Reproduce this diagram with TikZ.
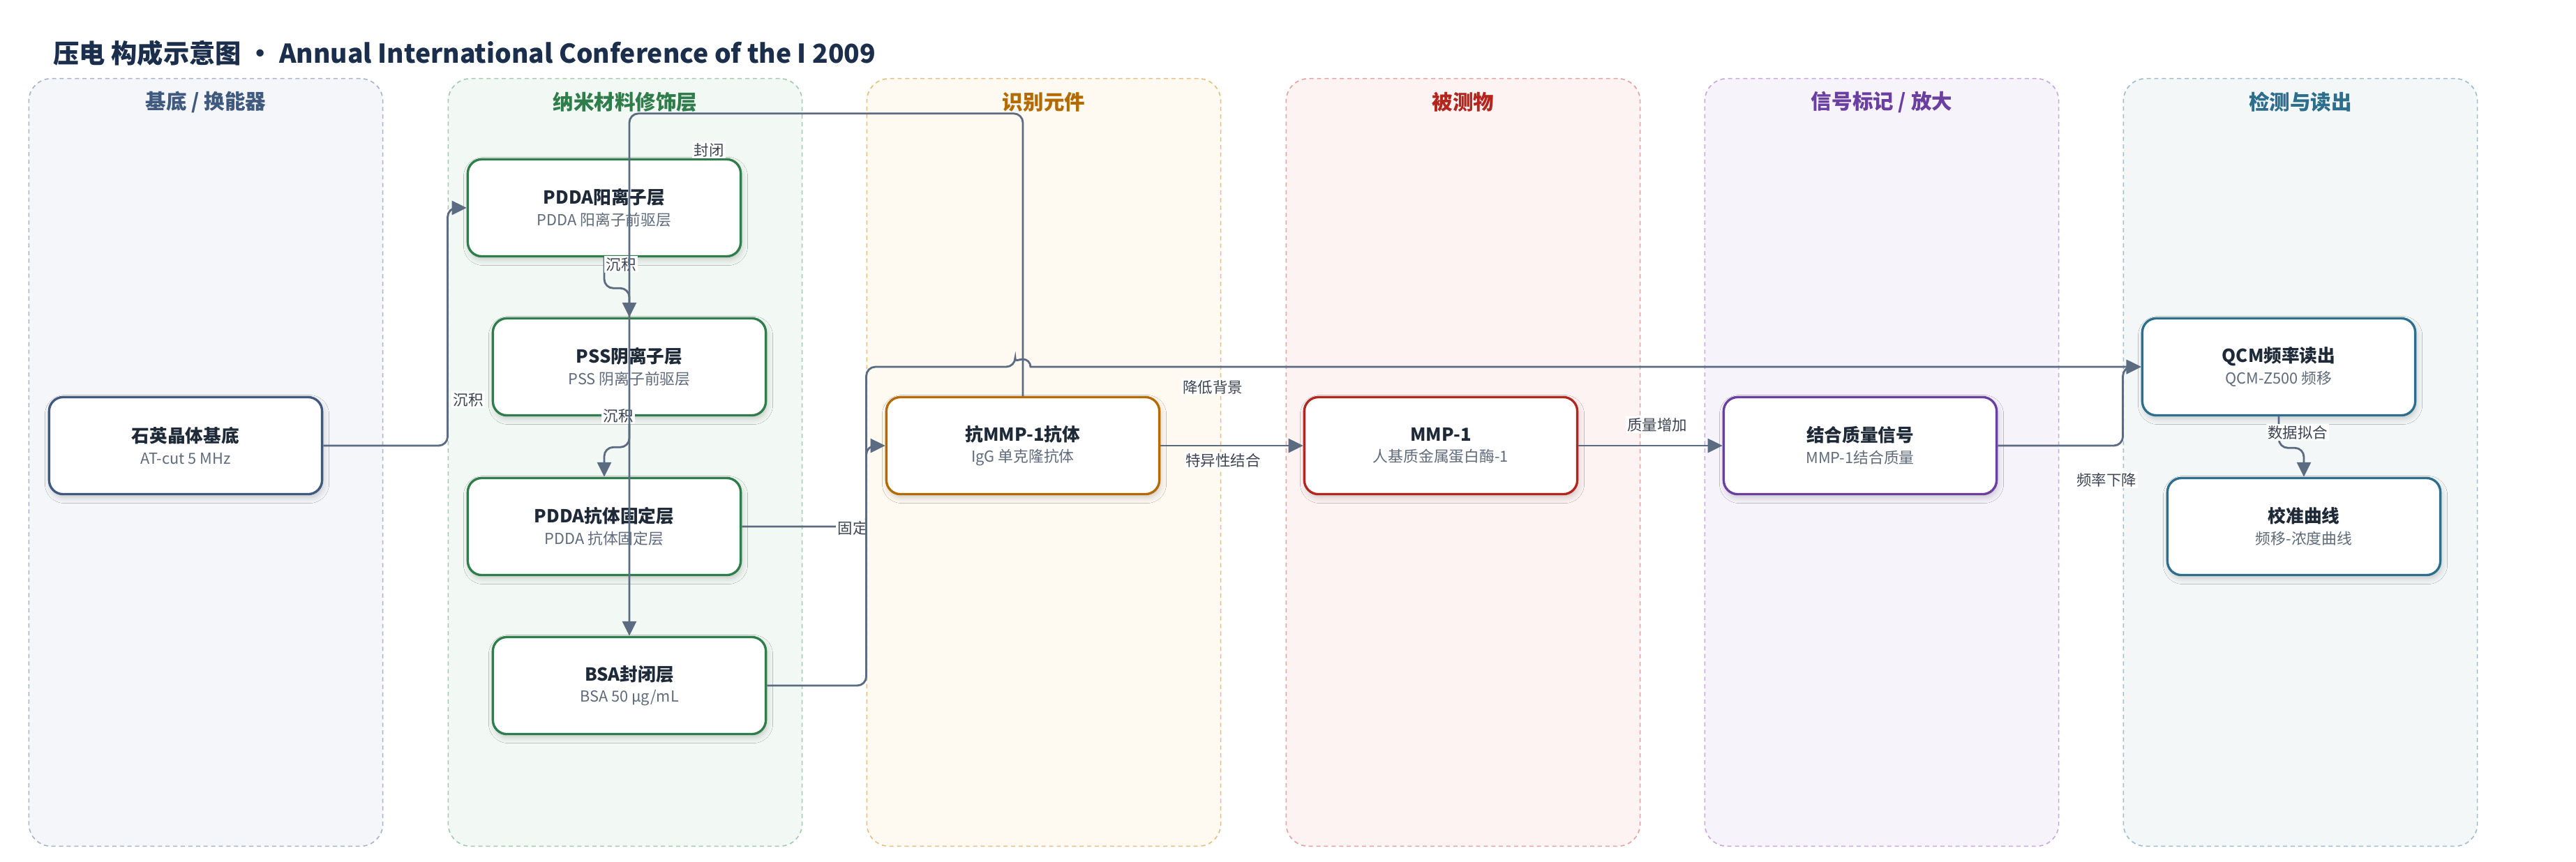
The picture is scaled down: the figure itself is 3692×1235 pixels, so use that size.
\documentclass[tikz,border=0pt]{standalone}
\usepackage{fontspec}
\setmainfont{Noto Sans CJK SC}
\usetikzlibrary{arrows.meta}
\usetikzlibrary{shadows.blur}
\usetikzlibrary{calc}

\definecolor{ink}{HTML}{1E2A38}
\definecolor{subgray}{HTML}{5F6B7A}
\definecolor{wire}{HTML}{5B6B82}
\definecolor{tagtext}{HTML}{3C4452}
\definecolor{headblue}{HTML}{1B2E4B}
% lane colours
\definecolor{subMain}{HTML}{3F5A7E}\definecolor{subFill}{HTML}{F5F6FA}\definecolor{subEdge}{HTML}{A7B3C8}
\definecolor{nanoMain}{HTML}{2E7D4A}\definecolor{nanoFill}{HTML}{F2F8F3}\definecolor{nanoEdge}{HTML}{A3C9AF}
\definecolor{recogMain}{HTML}{B36B00}\definecolor{recogFill}{HTML}{FEF9F1}\definecolor{recogEdge}{HTML}{E6BF80}
\definecolor{analyteMain}{HTML}{B3261E}\definecolor{analyteFill}{HTML}{FDF3F2}\definecolor{analyteEdge}{HTML}{E5A0A0}
\definecolor{signalMain}{HTML}{6B3FA0}\definecolor{signalFill}{HTML}{F6F3FB}\definecolor{signalEdge}{HTML}{C4A8DF}
\definecolor{detectMain}{HTML}{2C6E8C}\definecolor{detectFill}{HTML}{F3F7F8}\definecolor{detectEdge}{HTML}{9FBCC8}

\newcommand{\layertext}[2]{{\bfseries\fontsize{7.3}{8.7}\selectfont #1}\\{\color{subgray}#2}}

\tikzset{Tag/.style={fill=white, inner sep=0.6pt, text=tagtext, font=\fontsize{6.1}{7}\selectfont}}

\begin{document}
\begin{tikzpicture}[x=0.01cm, y=-0.01cm,
    Lane/.style={draw=#1Edge, fill=#1Fill, rounded corners=0.32cm, line width=0.45pt, dash pattern=on 1.7pt off 1.4pt, minimum width=5.07cm, minimum height=11cm},
    LaneTitle/.style={text=#1Main, font=\bfseries\fontsize{8.4}{10}\selectfont},
    Layer/.style={draw=#1Main, fill=white, rounded corners=0.2cm, line width=0.95pt, minimum width=3.91cm, minimum height=1.39cm, align=center, text=ink, font=\fontsize{6.2}{8.7}\selectfont, blur shadow={shadow xshift=0.02cm, shadow yshift=-0.05cm, shadow blur radius=0.08cm, shadow opacity=18}},
    Link/.style={draw=wire, line width=0.8pt, rounded corners=0.13cm, -{Triangle[length=0.21cm, width=0.2cm]}}]
    \useasboundingbox (0,0) rectangle (3692,1235);
    \fill[white] (0,0) rectangle (3692,1235);

    \node[anchor=west, text=headblue, font=\bfseries\fontsize{10.6}{12}\selectfont] (title) at (64,76) {压电 构成示意图 • Annual International Conference of the I 2009};

    % swim lanes
    \node[Lane=sub] (laneSub) at (295,663) {};
    \node[Lane=nano] (laneNano) at (896,663) {};
    \node[Lane=recog] (laneRecog) at (1496,663) {};
    \node[Lane=analyte] (laneAnalyte) at (2097,663) {};
    \node[Lane=signal] (laneSignal) at (2697,663) {};
    \node[Lane=detect] (laneDetect) at (3297,663) {};
    \node[LaneTitle=sub] (titleSub) at (295,146) {基底 / 换能器};
    \node[LaneTitle=nano] (titleNano) at (896,146) {纳米材料修饰层};
    \node[LaneTitle=recog] (titleRecog) at (1496,146) {识别元件};
    \node[LaneTitle=analyte] (titleAnalyte) at (2097,146) {被测物};
    \node[LaneTitle=signal] (titleSignal) at (2697,146) {信号标记 / 放大};
    \node[LaneTitle=detect] (titleDetect) at (3297,146) {检测与读出};

    % layers
    \node[Layer=sub] (base) at (266,639) {\layertext{石英晶体基底}{AT-cut 5 MHz}};
    \node[Layer=nano] (pdda1) at (866,298) {\layertext{PDDA阳离子层}{PDDA 阳离子前驱层}};
    \node[Layer=nano] (pss) at (902,526) {\layertext{PSS阴离子层}{PSS 阴离子前驱层}};
    \node[Layer=nano] (pdda2) at (866,755) {\layertext{PDDA抗体固定层}{PDDA 抗体固定层}};
    \node[Layer=nano] (bsa) at (902,983) {\layertext{BSA封闭层}{BSA 50 µg/mL}};
    \node[Layer=recog] (anti) at (1466,639) {\layertext{抗MMP-1抗体}{IgG 单克隆抗体}};
    \node[Layer=analyte] (mmp) at (2065,639) {\layertext{MMP-1}{人基质金属蛋白酶-1}};
    \node[Layer=signal] (sig) at (2666,639) {\layertext{结合质量信号}{MMP-1结合质量}};
    \node[Layer=detect] (qcm) at (3266,526) {\layertext{QCM频率读出}{QCM-Z500 频移}};
    \node[Layer=detect] (cal) at (3302,755) {\layertext{校准曲线}{频移-浓度曲线}};

    % links
    \draw[Link] (base.east) -- (base.east -| laneNano.west) |- (pdda1.west);
    \node[Tag] (tagDep1) at (671,573) {沉积};
    \draw[Link] (pdda1.south) -- ++(0,44) -| (pss.north);
    \node[Tag] (tagDep2) at (890,379) {沉积};
    \draw[Link] (pss.south) -- ++(0,44) -| (pdda2.north);
    \node[Tag] (tagDep3) at (886,596) {沉积};
    \draw[Link] (pdda2.east) -- (pdda2.east -| laneRecog.west) |- (anti.west);
    \node[Tag] (tagFix) at (1222,757) {固定};
    \draw[Link] (anti.north) -- ++(0,-405) -| (bsa.north);
    \node[Tag] (tagBlock) at (1016,215) {封闭};
    \draw[Link] (bsa.east) -- (bsa.east -| laneRecog.west) |- ($(anti.north |- qcm.west)+(-11,0)$)
        [sharp corners] arc[start angle=180, end angle=360, radius=11] -- (qcm.west);
    \node[Tag] (tagBg) at (1738,555) {降低背景};
    \draw[Link] (anti.east) -- (mmp.west);
    \node[Tag] (tagBind) at (1753,660) {特异性结合};
    \draw[Link] (mmp.east) -- (sig.west);
    \node[Tag] (tagMass) at (2375,609) {质量增加};
    \draw[Link] (sig.east) -- (sig.east -| laneDetect.west) |- (qcm.west);
    \node[Tag] (tagFreq) at (3019,688) {频率下降};
    \draw[Link] (qcm.south) -- ++(0,45) -| (cal.north);
    \node[Tag] (tagFit) at (3293,620) {数据拟合};
\end{tikzpicture}
\end{document}
